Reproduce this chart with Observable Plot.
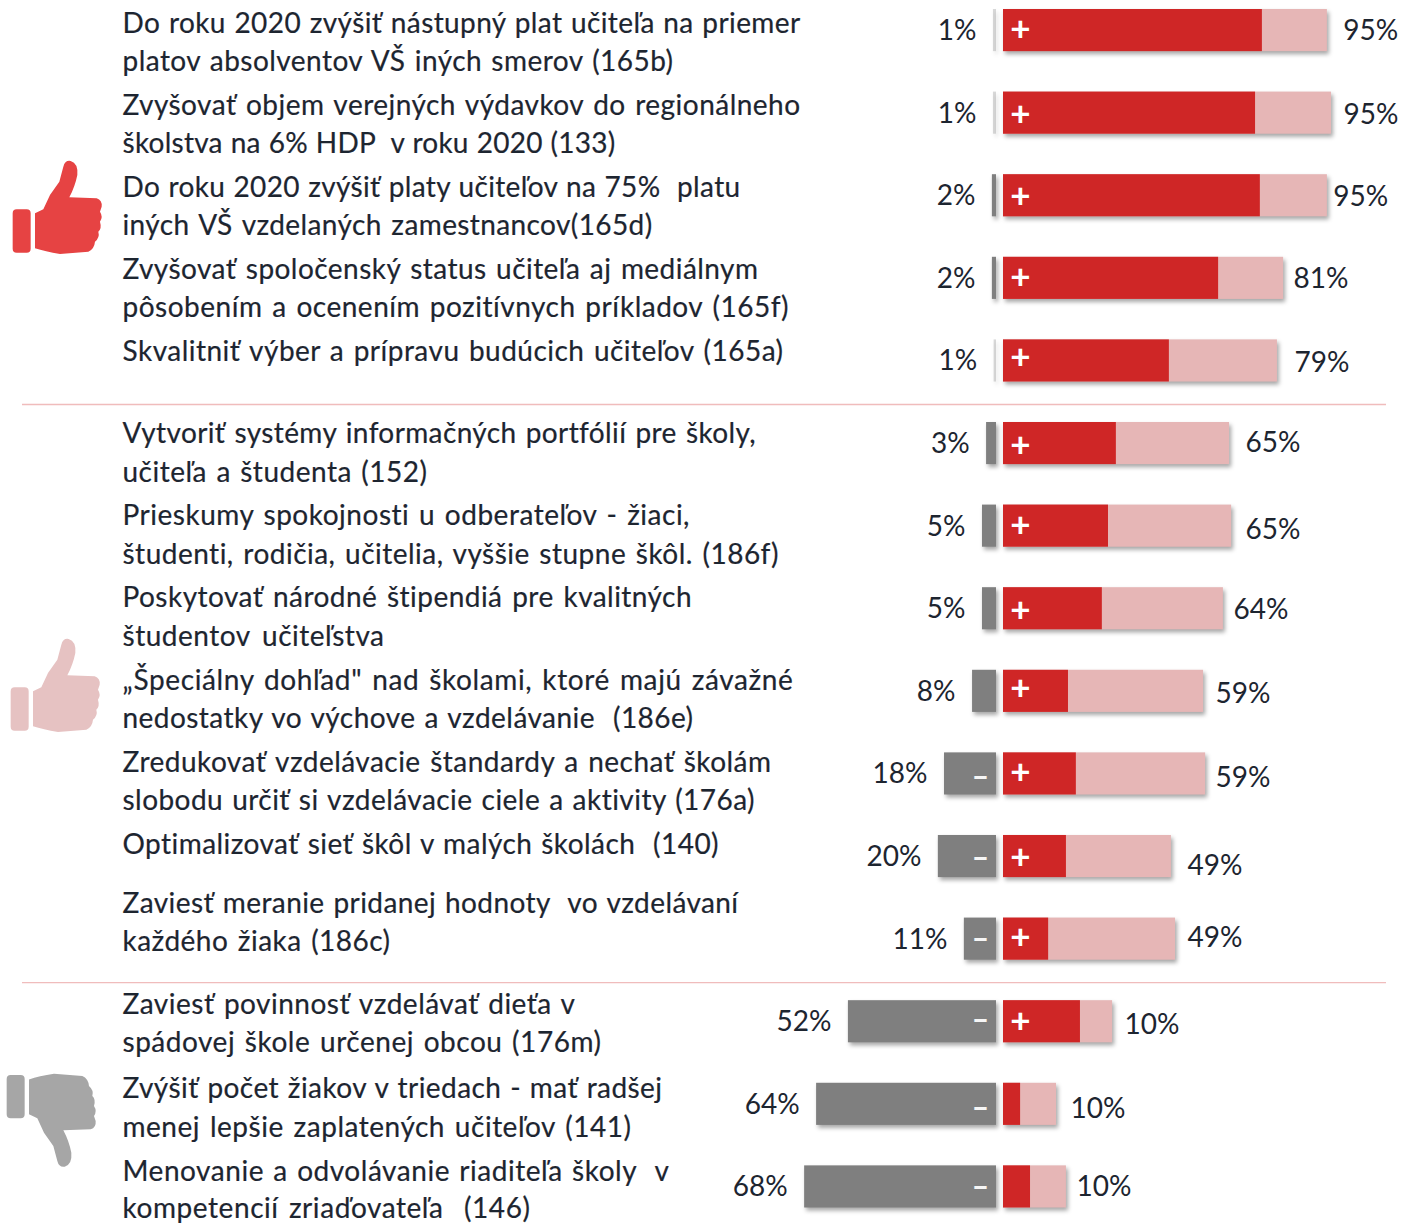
<!DOCTYPE html>
<html lang="sk">
<head>
<meta charset="utf-8">
<title>Podpora opatrení</title>
<script src="https://cdn.jsdelivr.net/npm/d3@7"></script>
<script src="https://cdn.jsdelivr.net/npm/@observablehq/plot@0.6"></script>
<style>
html,body{margin:0;padding:0;background:#fff;overflow:hidden}
svg{display:block}
</style>
</head>
<body>
<div id="chart"></div>
<script>
// DATA
const statements = [
  "Do roku 2020 zvýšiť nástupný plat učiteľa na priemer\nplatov absolventov VŠ iných smerov (165b)",
  "Zvyšovať objem verejných výdavkov do regionálneho\nškolstva na 6% HDP  v roku 2020 (133)",
  "Do roku 2020 zvýšiť platy učiteľov na 75%  platu\niných VŠ vzdelaných zamestnancov(165d)",
  "Zvyšovať spoločenský status učiteľa aj mediálnym\npôsobením a ocenením pozitívnych príkladov (165f)",
  "Skvalitniť výber a prípravu budúcich učiteľov (165a)",
  "Vytvoriť systémy informačných portfólií pre školy,\nučiteľa a študenta (152)",
  "Prieskumy spokojnosti u odberateľov - žiaci,\nštudenti, rodičia, učitelia, vyššie stupne škôl. (186f)",
  "Poskytovať národné štipendiá pre kvalitných\nštudentov učiteľstva",
  "„Špeciálny dohľad\" nad školami, ktoré majú závažné\nnedostatky vo výchove a vzdelávanie  (186e)",
  "Zredukovať vzdelávacie štandardy a nechať školám\nslobodu určiť si vzdelávacie ciele a aktivity (176a)",
  "Optimalizovať sieť škôl v malých školách  (140)",
  "Zaviesť meranie pridanej hodnoty  vo vzdelávaní\nkaždého žiaka (186c)",
  "Zaviesť povinnosť vzdelávať dieťa v\nspádovej škole určenej obcou (176m)",
  "Zvýšiť počet žiakov v triedach - mať radšej\nmenej lepšie zaplatených učiteľov (141)",
  "Menovanie a odvolávanie riaditeľa školy  v\nkompetencií zriaďovateľa  (146)"
];
const againstLabels = [1,1,2,2,1,3,5,5,8,18,20,11,52,64,68];
const forLabels     = [95,95,95,81,79,65,65,64,59,59,49,49,10,10,10];
// bar lengths as drawn, on one common axis
const againstBars = [0.9,0.9,1.2,1.2,0.7,2.9,4.1,4.1,7,15.2,17,9.4,43.3,52.6,56.1];
const strongBars  = [75.7,73.7,75.1,62.9,48.5,33,30.7,28.9,19,21.3,18.4,13.2,22.5,5,7.9];
const forBars     = [94.7,95.9,94.7,81.9,80.1,66.1,66.7,64.3,58.5,59.1,49.1,50.3,31.9,15.5,18.4];
const plusRows  = 13;   // first rows carrying the + glyph
const minusFrom = 9;    // rows from this index carry the − glyph

const rows = statements.map((statement,i)=>({
  statement, i,
  against: againstBars[i], strong: strongBars[i], total: forBars[i],
  againstLabel: againstLabels[i]+"%", forLabel: forLabels[i]+"%"
}));

// LAYOUT
const W = 1413, H = 1225, unit = 3.42, zero = 1003, gap = 7;
const FONT = "Lato, 'Open Sans', sans-serif", INK = "#1d2530";
const textDy  = [9,8.4,7.8,7.2,-12.4,6.5,5.9,5.3,5.2,4.6,-15,-19.6,-1.2,0.7,0.6];
const linePx  = [38,38,38,38,38,39,39,39,38,38,38,38,38,39,37];
const rightDx = [16,12,6,10,17,16,14,10,12,10,16,12,12,14,10];
const rightDy = [0,1.4,0.8,0.2,1.6,-1,3.4,0.8,2.2,3.6,9,-1.6,2.8,4.2,-0.4];
const plusDy  = [-1,1.4,0.8,-0.8,-3.4,2,-0.6,1.8,-2.8,-1.4,1,-1.6,-0.2];
const minusDy = [3,2,0,-1,4,0];
const lineWidths = [[678,551],[678,493],[618,530],[636,667],[661],[633,305],[568,657],[570,262],
  [671,571],[649,633],[597],[616,268],[453,479],[540,509],[547,408]];

const THUMB = "M105 190L130 178L150 135L178 95L190 50Q195 30 212 33Q235 40 232 75Q225 110 208 142L290 145Q307 150 305 170L300 185Q310 200 300 215Q306 235 295 245Q300 262 285 275Q283 297 265 305L180 312Q135 305 105 295Z"
  + "M38 190Q38 178 50 178L80 178Q92 178 92 190L92 296Q92 308 80 308L50 308Q38 308 38 296Z";
const icon = (fill, transform) => () => {
  const p = document.createElementNS("http://www.w3.org/2000/svg","path");
  p.setAttribute("d", THUMB); p.setAttribute("fill", fill); p.setAttribute("transform", transform);
  return p;
};

const plot = Plot.plot({
  width: W, height: H, margin: 0,
  style: {background:"#fff", fontFamily: FONT},
  x: {domain: [-zero/unit, (W-zero)/unit], range: [0, W], axis: null},
  y: {domain: statements, range: [9, 1207.5], paddingInner: 0.49, paddingOuter: 0, round: false, axis: null},
  marks: [
    Plot.ruleY([statements[4], statements[11]], {stroke:"#f0bcbc", strokeWidth:1.4, insetLeft:22, insetRight:27, dy: 43.5}),
    Plot.barX(rows,{x1:0,x2:d=>-d.against,y:"statement",fill:"#7f7f7f",dx:-gap,
      fillOpacity:d=>d.against<1?0.3:1, imageFilter:"drop-shadow(2px 3px 2px rgba(0,0,0,.35))"}),
    Plot.barX(rows,{x1:0,x2:"total",y:"statement",fill:"#e6b6b6",
      imageFilter:"drop-shadow(2px 3px 2px rgba(0,0,0,.35))"}),
    Plot.barX(rows,{x1:0,x2:"strong",y:"statement",fill:"#cf2626"}),
    ...rows.slice(0,plusRows).map((r,i)=>Plot.text([r],{x:0,y:"statement",text:()=>"+",fill:"#fff",fontSize:35,fontWeight:700,dx:17,dy:plusDy[i]})),
    ...rows.slice(minusFrom).map((r,i)=>Plot.text([r],{x:0,y:"statement",text:()=>"–",fill:"#f6f6f6",fontSize:30,fontWeight:900,dx:-23,dy:minusDy[i]})),
    Plot.text(rows,{x:d=>-d.against,y:"statement",text:"againstLabel",textAnchor:"end",dx:-gap-17,dy:0.5,fontSize:28,fill:INK}),
    ...rows.map((r,i)=>Plot.text([r],{x:"total",y:"statement",text:"forLabel",textAnchor:"start",dx:rightDx[i],dy:rightDy[i],fontSize:28,fill:INK})),
    ...rows.map((r,i)=>Plot.text([r],{frameAnchor:"left",dx:122,y:"statement",text:"statement",textAnchor:"start",dy:textDy[i],fontSize:28,lineHeight:linePx[i]/28,fill:INK,stroke:INK,strokeWidth:0.2})),
    icon("#e64343","translate(0,150) scale(0.3333)"),
    icon("#e6c2c2","translate(-2,628) scale(0.3333)"),
    icon("#a6a6a6","translate(-6,1177.7) scale(0.3333,-0.3333)")
  ]
});
document.getElementById("chart").append(plot);

// Stretch each statement line to the width it has in the reference.
const fit = (node, target) => {
  const s = node.textContent, natural = node.getComputedTextLength(), extra = target - natural;
  const spaces = (s.match(/ /g) || []).length;
  node.style.letterSpacing = (extra * 0.7 / s.length) + "px";
  node.style.wordSpacing = (spaces ? extra * 0.3 / spaces : 0) + "px";
};
lineWidths.forEach((widths,i) => {
  const t = [...plot.querySelectorAll("g text")].find(e => e.textContent.replace(/\s/g,"").startsWith(statements[i].split("\n")[0].replace(/\s/g,"")));
  if (!t) return;
  const spans = t.querySelectorAll("tspan");
  if (spans.length) spans.forEach((sp,j) => fit(sp, widths[j])); else fit(t, widths[0]);
});
</script>
</body>
</html>
